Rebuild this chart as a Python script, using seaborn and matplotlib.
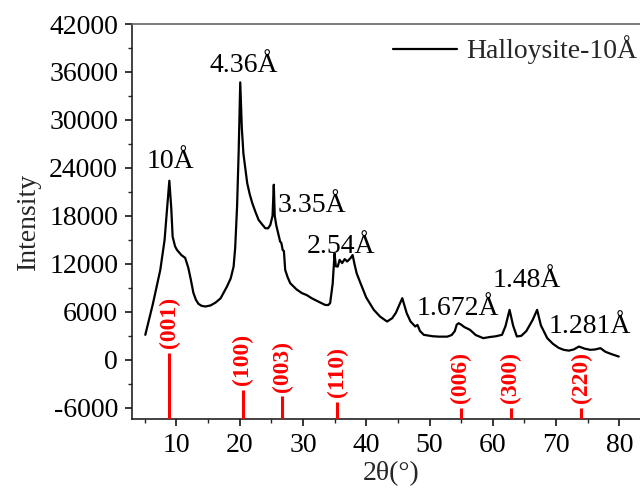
import numpy as np
import pandas as pd
import matplotlib
matplotlib.use("Agg")
import matplotlib.pyplot as plt
import seaborn as sns
from matplotlib.ticker import MultipleLocator

# ---------------- data ----------------
two_theta = [5.1, 6.3, 7.47, 8.15, 8.5, 8.9, 9.2, 9.42, 9.8, 10.1, 10.8, 11.4, 11.9, 12.3, 12.7,
             13.1, 13.5, 14.0, 14.6, 15.4, 16.2, 17.0, 18.0, 18.6, 19.05, 19.3, 19.6, 19.85, 20.1,
             20.35, 20.6, 21.2, 21.6, 22.0, 22.5, 23.0, 23.6, 24.06, 24.5, 24.85, 25.2, 25.4, 25.55,
             25.8, 26.1, 26.4, 26.6, 26.8, 27.0, 27.2, 27.6, 28.0, 29.0, 29.85, 30.6, 31.4, 32.4,
             33.5, 34.0, 34.3, 34.7, 35.0, 35.2, 35.5, 35.8, 36.2, 36.6, 37.0, 37.5, 37.85, 38.2,
             38.5, 39.1, 40.0, 41.2, 42.2, 43.3, 43.7, 44.1, 44.7, 45.3, 45.7, 46.0, 46.4, 47.0,
             47.75, 48.1, 48.5, 49.1, 50.5, 51.5, 52.8, 53.5, 54.0, 54.3, 54.6, 55.0, 55.5, 56.4,
             57.3, 58.5, 59.5, 60.5, 61.45, 62.0, 62.65, 63.2, 63.8, 64.5, 65.3, 66.3, 67.0, 67.6,
             68.6, 69.5, 70.4, 71.2, 72.0, 72.8, 73.6, 74.5, 75.4, 76.2, 77.0, 77.8, 78.8, 79.9]
intensity = [3125, 7000, 11250, 15000, 18500, 22400, 19000, 15400, 14200, 13750, 13100, 12750, 11500,
             10000, 8370, 7500, 7000, 6750, 6670, 6800, 7160, 7700, 9160, 10200, 11660, 14000, 19200,
             26000, 34700, 29000, 25800, 22100, 20700, 19600, 18500, 17500, 16900, 16460, 16450, 16870,
             18000, 21900, 18000, 16800, 15800, 14800, 14600, 13750, 13600, 11250, 10300, 9580, 8800,
             8340, 8100, 7700, 7300, 6870, 6850, 7090, 9500, 13300, 11700, 11660, 12500, 12100, 12600,
             12300, 12700, 13100, 11800, 10800, 9580, 7800, 6250, 5400, 4790, 5000, 5200, 5900, 7000,
             7710, 6900, 5830, 4800, 4170, 4370, 3600, 3125, 2950, 2900, 2900, 3100, 3600, 4400, 4580,
             4400, 4100, 3750, 3100, 2710, 2850, 2950, 3125, 4200, 6250, 4300, 2920, 3000, 3600, 5000,
             6250, 4300, 2710, 2000, 1500, 1250, 1150, 1300, 1660, 1400, 1250, 1300, 1460, 1000, 700, 410]

peak_labels = ["10\u00c5", "4.36\u00c5", "3.35\u00c5", "2.54\u00c5", "1.672\u00c5", "1.48\u00c5", "1.281\u00c5"]
peak_label_x = [9.05, 20.7, 25.95, 30.65, 47.9, 59.9, 68.8]
peak_label_y = [24000, 36000, 18540, 13340, 5625, 9080, 3330]
peak_label_ha = ["center", "center", "left", "left", "left", "left", "left"]

hkl_labels = ["(001)", "(100)", "(003)", "(110)", "(006)", "(300)", "(220)"]
hkl_pos = [8.9, 20.5, 26.7, 35.4, 54.9, 62.8, 74.0]
hkl_top = [850, -3750, -4580, -5290, -6040, -6040, -6040]

series_name = "Halloysite-10\u00c5"
x_ticks = [10, 20, 30, 40, 50, 60, 70, 80]
y_ticks = [-6000, 0, 6000, 12000, 18000, 24000, 30000, 36000, 42000]

# ---------------- style ----------------
sns.set_style("ticks")
plt.rcParams["font.family"] = ["Liberation Serif", "DejaVu Serif"]
plt.rcParams["axes.unicode_minus"] = False

FS = 20
fig = plt.figure(figsize=(6.4, 4.92), dpi=100)
XMIN, XMAX = 3, 85
YMIN, YMAX = -7400, 42000
px_per_deg = 6.33
left_px, top_px, bottom_px = 132, 24, 419
ax = fig.add_axes([left_px / 640, 1 - bottom_px / 492,
                   (XMAX - XMIN) * px_per_deg / 640, (bottom_px - top_px) / 492])

df = pd.DataFrame({"2theta": two_theta, "Intensity": intensity, "series": series_name})
sns.lineplot(data=df, x="2theta", y="Intensity", hue="series", palette=["black"],
             linewidth=1.6, ax=ax, sort=False, estimator=None)

# reference sticks
ax.vlines(hkl_pos, YMIN, hkl_top, colors="#ff0000", linewidth=2.2, zorder=3)
for lab, xp, yt in zip(hkl_labels, hkl_pos, hkl_top):
    ax.annotate(lab, (xp, yt), xytext=(0, 3.5), textcoords="offset points",
                rotation=90, ha="center", va="bottom", color="#ff0000",
                fontsize=17, fontweight="bold")

for lab, xp, yp, ha in zip(peak_labels, peak_label_x, peak_label_y, peak_label_ha):
    ax.text(xp, yp, lab, fontsize=FS, ha=ha, va="baseline", color="black")

ax.set_xlim(XMIN, XMAX)
ax.set_ylim(YMIN, YMAX)
ax.set_xticks(x_ticks)
ax.set_yticks(y_ticks)
ax.xaxis.set_minor_locator(MultipleLocator(5))
ax.yaxis.set_minor_locator(MultipleLocator(3000))
ax.tick_params(axis="both", which="major", direction="out", length=5, width=1.1,
               labelsize=FS, pad=5, colors="black")
ax.tick_params(axis="both", which="minor", direction="out", length=3, width=1.0)
ax.tick_params(top=False, right=False, which="both")
for s in ax.spines.values():
    s.set_linewidth(1.2)
    s.set_color("#222222")
ax.spines["top"].set_color("#666666")

ax.set_xlabel("2\u03b8(\u00b0)", fontsize=FS, labelpad=2)
ax.set_ylabel("Intensity", fontsize=FS, labelpad=6)

ax.get_legend().remove()
handles, labels = ax.get_legend_handles_labels()
fig.legend(handles, labels, loc="center left", bbox_to_anchor=(393 / 640, 1 - 50 / 492),
           bbox_transform=fig.transFigure, frameon=False, fontsize=FS,
           handlelength=2.3, handletextpad=0.35, borderpad=0, borderaxespad=0)

fig.savefig("out.png", dpi=100)
